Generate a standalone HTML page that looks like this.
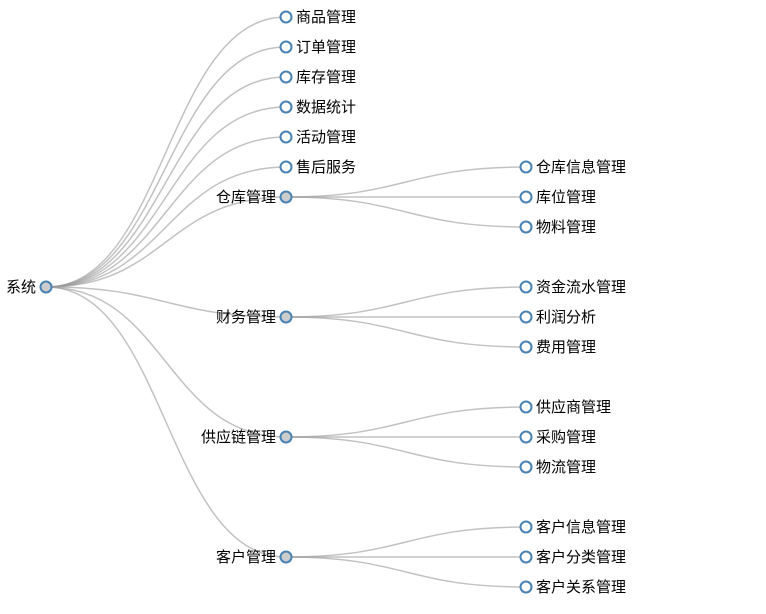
<!DOCTYPE html>
<html><head><meta charset="utf-8"><style>
html,body{margin:0;padding:0;background:#fff;}
svg{display:block;}
text{font-family:"Liberation Sans","Noto Sans CJK SC",sans-serif;font-size:15px;fill:#000;dominant-baseline:middle;}
path{fill:none;stroke:#999;stroke-opacity:0.6;stroke-width:1.5;}
circle{stroke:#4682b4;stroke-width:2;}
</style></head><body>
<svg width="766" height="614" viewBox="0 0 766 614" xmlns="http://www.w3.org/2000/svg">
<g>
<path d="M46,287C166,287 166,17 286,17"/>
<path d="M46,287C166,287 166,47 286,47"/>
<path d="M46,287C166,287 166,77 286,77"/>
<path d="M46,287C166,287 166,107 286,107"/>
<path d="M46,287C166,287 166,137 286,137"/>
<path d="M46,287C166,287 166,167 286,167"/>
<path d="M46,287C166,287 166,197 286,197"/>
<path d="M46,287C166,287 166,317 286,317"/>
<path d="M46,287C166,287 166,437 286,437"/>
<path d="M46,287C166,287 166,557 286,557"/>
<path d="M286,197C406,197 406,167 526,167"/>
<path d="M286,197C406,197 406,197 526,197"/>
<path d="M286,197C406,197 406,227 526,227"/>
<path d="M286,317C406,317 406,287 526,287"/>
<path d="M286,317C406,317 406,317 526,317"/>
<path d="M286,317C406,317 406,347 526,347"/>
<path d="M286,437C406,437 406,407 526,407"/>
<path d="M286,437C406,437 406,437 526,437"/>
<path d="M286,437C406,437 406,467 526,467"/>
<path d="M286,557C406,557 406,527 526,527"/>
<path d="M286,557C406,557 406,557 526,557"/>
<path d="M286,557C406,557 406,587 526,587"/>
</g>
<g>
<circle cx="46" cy="287" r="5.5" fill="#ccc"/><text x="36" y="287" dy="1" text-anchor="end">系统</text>
<circle cx="286" cy="17" r="5.5" fill="#fff"/><text x="296" y="17" dy="1">商品管理</text>
<circle cx="286" cy="47" r="5.5" fill="#fff"/><text x="296" y="47" dy="1">订单管理</text>
<circle cx="286" cy="77" r="5.5" fill="#fff"/><text x="296" y="77" dy="1">库存管理</text>
<circle cx="286" cy="107" r="5.5" fill="#fff"/><text x="296" y="107" dy="1">数据统计</text>
<circle cx="286" cy="137" r="5.5" fill="#fff"/><text x="296" y="137" dy="1">活动管理</text>
<circle cx="286" cy="167" r="5.5" fill="#fff"/><text x="296" y="167" dy="1">售后服务</text>
<circle cx="286" cy="197" r="5.5" fill="#ccc"/><text x="276" y="197" dy="1" text-anchor="end">仓库管理</text>
<circle cx="286" cy="317" r="5.5" fill="#ccc"/><text x="276" y="317" dy="1" text-anchor="end">财务管理</text>
<circle cx="286" cy="437" r="5.5" fill="#ccc"/><text x="276" y="437" dy="1" text-anchor="end">供应链管理</text>
<circle cx="286" cy="557" r="5.5" fill="#ccc"/><text x="276" y="557" dy="1" text-anchor="end">客户管理</text>
<circle cx="526" cy="167" r="5.5" fill="#fff"/><text x="536" y="167" dy="1">仓库信息管理</text>
<circle cx="526" cy="197" r="5.5" fill="#fff"/><text x="536" y="197" dy="1">库位管理</text>
<circle cx="526" cy="227" r="5.5" fill="#fff"/><text x="536" y="227" dy="1">物料管理</text>
<circle cx="526" cy="287" r="5.5" fill="#fff"/><text x="536" y="287" dy="1">资金流水管理</text>
<circle cx="526" cy="317" r="5.5" fill="#fff"/><text x="536" y="317" dy="1">利润分析</text>
<circle cx="526" cy="347" r="5.5" fill="#fff"/><text x="536" y="347" dy="1">费用管理</text>
<circle cx="526" cy="407" r="5.5" fill="#fff"/><text x="536" y="407" dy="1">供应商管理</text>
<circle cx="526" cy="437" r="5.5" fill="#fff"/><text x="536" y="437" dy="1">采购管理</text>
<circle cx="526" cy="467" r="5.5" fill="#fff"/><text x="536" y="467" dy="1">物流管理</text>
<circle cx="526" cy="527" r="5.5" fill="#fff"/><text x="536" y="527" dy="1">客户信息管理</text>
<circle cx="526" cy="557" r="5.5" fill="#fff"/><text x="536" y="557" dy="1">客户分类管理</text>
<circle cx="526" cy="587" r="5.5" fill="#fff"/><text x="536" y="587" dy="1">客户关系管理</text>
</g>
</svg>
</body></html>
